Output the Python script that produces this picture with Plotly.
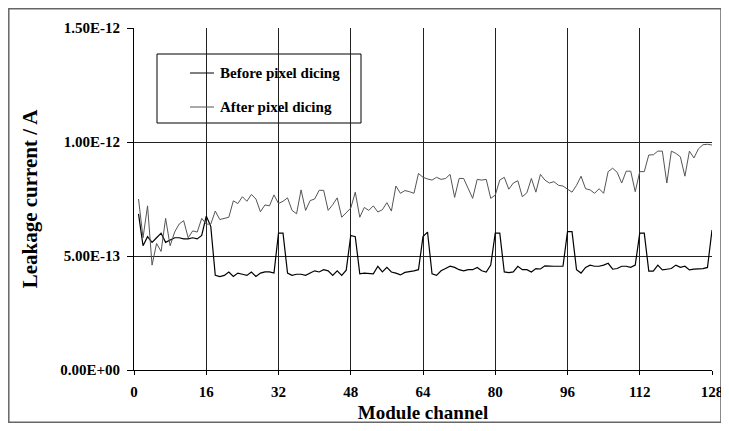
import plotly.graph_objects as go

# Module channels 1..128
channels = list(range(1, 129))

# Leakage current in units of 1e-13 A
before_e13 = [
    6.85, 5.45, 5.85, 5.6, 5.8, 6.0, 5.6, 5.7, 5.8, 5.8, 5.75, 5.75, 5.8, 5.75, 5.9, 6.75,
    6.3, 4.15, 4.1, 4.15, 4.3, 4.1, 4.25, 4.2, 4.15, 4.3, 4.1, 4.25, 4.3, 4.3, 4.25, 6.0,
    6.0, 4.25, 4.15, 4.2, 4.2, 4.15, 4.25, 4.35, 4.3, 4.4, 4.35, 4.15, 4.35, 4.15, 4.38, 5.9,
    5.85, 4.22, 4.25, 4.25, 4.22, 4.55, 4.3, 4.5, 4.3, 4.25, 4.17, 4.28, 4.3, 4.35, 4.4, 5.85,
    6.05, 4.22, 4.15, 4.35, 4.45, 4.55, 4.5, 4.4, 4.35, 4.4, 4.4, 4.5, 4.35, 4.3, 4.6, 6.0,
    6.0, 4.3, 4.27, 4.3, 4.55, 4.4, 4.4, 4.3, 4.45, 4.43, 4.57, 4.55, 4.55, 4.55, 4.55, 6.07,
    6.07, 4.4, 4.25, 4.5, 4.6, 4.55, 4.55, 4.6, 4.68, 4.42, 4.45, 4.55, 4.55, 4.5, 4.6, 6.0,
    6.0, 4.34, 4.34, 4.6, 4.39, 4.42, 4.45, 4.6, 4.5, 4.55, 4.39, 4.42, 4.42, 4.45, 4.5, 6.14,
]
after_e13 = [
    7.5, 5.8, 7.2, 4.6, 5.55, 5.2, 6.65, 5.45, 6.05, 6.4, 6.55, 5.8, 6.1, 6.05, 6.65, 6.4,
    6.4, 6.97, 6.6, 6.65, 6.7, 7.42, 7.3, 7.6, 7.4, 7.7, 7.5, 6.94, 7.24, 7.2, 7.68, 7.3,
    7.4, 7.55, 7.0, 6.85, 7.9, 7.0, 7.43, 7.5, 7.88, 7.88, 7.0, 7.25, 7.55, 6.7, 6.9, 7.1,
    7.8, 6.7, 7.13, 7.0, 7.2, 6.93, 7.03, 7.34, 6.97, 8.07, 7.75, 7.87, 7.82, 7.75, 8.62, 8.45,
    8.38, 8.33, 8.45, 8.36, 8.4, 8.58, 7.57, 8.4, 8.4, 7.95, 7.53, 8.36, 8.33, 8.36, 7.53, 7.67,
    8.33, 8.45, 7.93, 8.2, 8.3, 7.6, 7.77, 8.4, 7.8, 8.58, 8.33, 8.2, 8.26, 8.1, 8.07, 7.93,
    7.8, 8.1, 8.5, 7.95, 7.9, 7.75, 7.95, 7.75, 8.7, 8.85, 8.67, 8.2, 8.72, 8.72, 7.82, 8.7,
    8.7, 9.43, 9.44, 9.6, 9.6, 8.2, 9.6, 9.5, 9.35, 8.5, 9.6, 9.3, 9.7, 9.88, 9.9, 9.87,
]
before = [v * 1e-13 for v in before_e13]
after = [v * 1e-13 for v in after_e13]

series_names = ["Before pixel dicing", "After pixel dicing"]
series_colors = ["#000000", "#555555"]

x_ticks = [0, 16, 32, 48, 64, 80, 96, 112, 128]
y_ticks = [0, 5e-13, 1e-12, 1.5e-12]
y_ticktext = ["0.00E+00", "5.00E-13", "1.00E-12", "1.50E-12"]

FONT = "Liberation Serif, Times New Roman, serif"

fig = go.Figure()
fig.add_trace(go.Scatter(x=channels, y=before, mode="lines", name=series_names[0],
                         line=dict(color=series_colors[0], width=1.2), showlegend=False))
fig.add_trace(go.Scatter(x=channels, y=after, mode="lines", name=series_names[1],
                         line=dict(color=series_colors[1], width=1), showlegend=False))

# page has an 8px body margin; figure is sized so the page does not overflow the window
OFF = 8
W, H = 729 - OFF, 431 - 2 * OFF
PL, PR, PT, PB = 134, 712, 28, 370          # plot area in page pixels
pw, ph = PR - PL, PB - PT

def px(x):
    return (x - PL) / pw

def py(y):
    return (PB - y) / ph

shapes = [
    # outer frame
    dict(type="rect", xref="paper", yref="paper", x0=px(OFF + 0.8), x1=px(OFF + W - 8), y0=py(OFF + H - 0.8), y1=py(OFF + 0.8),
         line=dict(color="#666666", width=1.5), fillcolor="rgba(0,0,0,0)", layer="below"),
    # legend box
    dict(type="rect", xref="paper", yref="paper", x0=px(157), x1=px(361), y0=py(123), y1=py(54),
         line=dict(color="#000000", width=1), fillcolor="white", layer="between"),
]
annotations = []
legend_y = [73, 107]
for name, color, yy in zip(series_names, series_colors, legend_y):
    shapes.append(dict(type="line", xref="paper", yref="paper", x0=px(190), x1=px(214),
                       y0=py(yy), y1=py(yy), line=dict(color=color, width=1), layer="above"))
    annotations.append(dict(xref="paper", yref="paper", x=px(218), y=py(yy), text="<b>%s</b>" % name,
                            showarrow=False, xanchor="left", yanchor="middle",
                            font=dict(family=FONT, size=15, color="black")))

fig.update_layout(
    width=W, height=H,
    margin=dict(l=PL - OFF, r=W - (PR - OFF), t=PT - OFF, b=H - (PB - OFF), autoexpand=False),
    paper_bgcolor="white", plot_bgcolor="white",
    font=dict(family=FONT, color="black"),
    shapes=shapes, annotations=annotations,
    showlegend=False,
)
fig.update_xaxes(
    range=[0, 128], tickvals=x_ticks, ticktext=[str(t) for t in x_ticks],
    showgrid=True, gridcolor="#222222", gridwidth=1,
    showline=True, linecolor="black", linewidth=1, zeroline=False,
    ticks="outside", ticklen=4, tickcolor="black", ticklabelstandoff=4,
    ticklabeloverflow="allow",
    tickfont=dict(family=FONT, size=15, color="black", weight="bold"),
    title=dict(text="<b>Module channel</b>", font=dict(family=FONT, size=19, color="black"), standoff=6),
)
fig.update_yaxes(
    range=[0, 1.5e-12], tickvals=y_ticks, ticktext=y_ticktext,
    showgrid=True, gridcolor="#222222", gridwidth=1,
    showline=True, linecolor="black", linewidth=1, zeroline=False,
    ticks="outside", ticklen=6, tickcolor="black", ticklabelstandoff=4,
    tickfont=dict(family=FONT, size=15, color="black", weight="bold"),
    title=dict(text="<b>Leakage current / A</b>", font=dict(family=FONT, size=21, color="black"), standoff=16),
)

fig.write_html("out.html")
